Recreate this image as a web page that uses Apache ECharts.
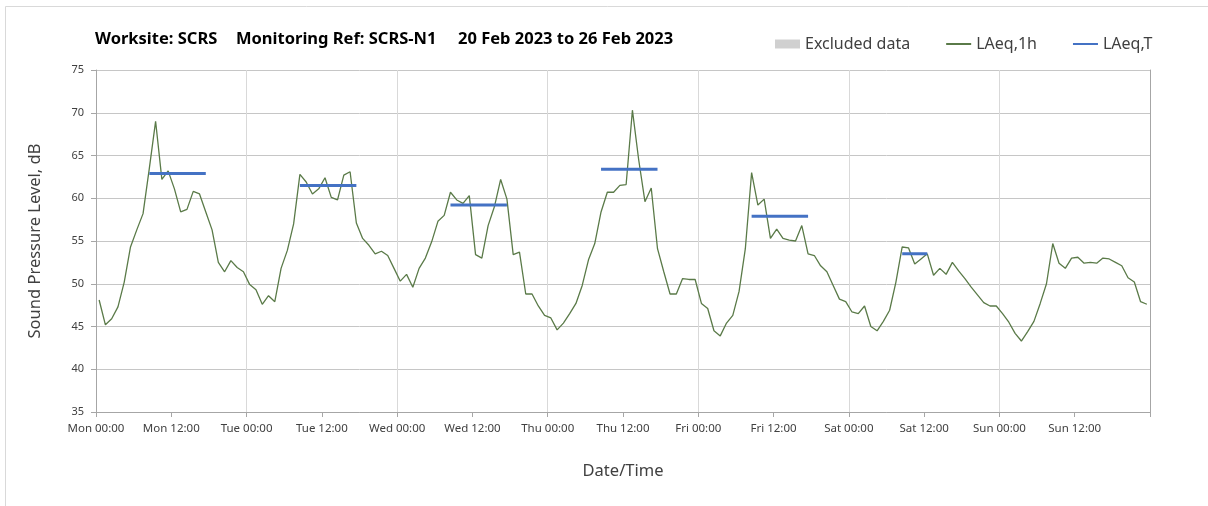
<!DOCTYPE html>
<html>
<head>
<meta charset="utf-8">
<script src="https://cdn.jsdelivr.net/npm/echarts@6/dist/echarts.min.js"></script>
<style>
html,body{margin:0;padding:0;background:#fff;}
#chart{width:1208px;height:506px;}
</style>
</head>
<body>
<div id="chart"></div>
<script>
// Hourly LAeq,1h values (dB), one array per day, Mon 20 Feb 2023 .. Sun 26 Feb 2023
const mon = [48.1,45.2,45.9,47.3,50.2,54.3,56.3,58.2,63.5,69.0,62.2,63.2,61.1,58.4,58.7,60.8,60.5,58.4,56.3,52.5,51.4,52.7,51.9,51.4];
const tue = [49.9,49.3,47.6,48.6,47.9,51.8,53.9,57.0,62.8,61.9,60.5,61.1,62.4,60.1,59.8,62.7,63.1,57.1,55.3,54.5,53.5,53.8,53.3,51.8];
const wed = [50.3,51.1,49.6,51.8,53.0,54.9,57.3,58.0,60.7,59.8,59.4,60.3,53.4,53.0,56.8,59.0,62.2,59.9,53.4,53.7,48.8,48.8,47.4,46.3];
const thu = [46.0,44.6,45.4,46.5,47.7,49.8,52.8,54.7,58.4,60.7,60.7,61.5,61.6,70.3,64.5,59.6,61.2,54.1,51.4,48.8,48.8,50.6,50.5,50.5];
const fri = [47.7,47.1,44.5,43.9,45.4,46.3,49.1,54.1,63.0,59.2,59.9,55.3,56.4,55.3,55.1,55.0,56.8,53.5,53.3,52.1,51.4,49.8,48.2,47.9];
const sat = [46.7,46.5,47.4,45.0,44.5,45.6,46.9,50.2,54.3,54.2,52.3,52.9,53.5,51.0,51.8,51.1,52.5,51.5,50.6,49.6,48.7,47.8,47.4,47.4];
const sun = [46.5,45.5,44.2,43.3,44.4,45.6,47.7,50.0,54.7,52.4,51.8,53.0,53.1,52.4,52.5,52.4,53.0,52.9,52.5,52.1,50.7,50.2,47.9,47.6];

// LAeq,T daytime periods
const periodDay = [0,1,2,3,4,5];
const periodStartHour = [8,8,8,8,8,8];
const periodEndHour = [17,17,17,17,17,12];
const periodLAeqT = [62.9,61.5,59.2,63.4,57.9,53.5];

// x tick labels every 12 h
const xTickLabels = ['Mon 00:00','Mon 12:00','Tue 00:00','Tue 12:00','Wed 00:00','Wed 12:00','Thu 00:00','Thu 12:00','Fri 00:00','Fri 12:00','Sat 00:00','Sat 12:00','Sun 00:00','Sun 12:00'];
const yTicks = [35,40,45,50,55,60,65,70,75];

const hourly = [].concat(mon,tue,wed,thu,fri,sat,sun);
const FONT = 'Noto Sans';
const TXT = '#404040';

const series = [
  { name:'Excluded data', type:'bar', data:[], itemStyle:{color:'#d0d0d0'} },
  { name:'LAeq,1h', type:'line', symbol:'none', z:3,
    lineStyle:{color:'#5a7a48', width:1.3}, itemStyle:{color:'#5a7a48'},
    data: hourly.map((v,i)=>[i+0.5, v]) }
];
periodDay.forEach((d,k)=>{
  series.push({ name:'LAeq,T', type:'line', symbol:'none', z:4,
    lineStyle:{color:'#4472c4', width:3}, itemStyle:{color:'#4472c4'},
    data:[[d*24+periodStartHour[k]+0.5, periodLAeqT[k]],[d*24+periodEndHour[k]+0.5, periodLAeqT[k]]] });
});

const titleStyle = {fontFamily:FONT,fontSize:16.5,fontWeight:'bold',color:'#000'};
const chart = echarts.init(document.getElementById('chart'), null, {renderer:'canvas'});
chart.setOption({
  animation:false,
  backgroundColor:'#ffffff',
  textStyle:{fontFamily:FONT},
  graphic:[{type:'rect', shape:{x:5.5,y:6.5,width:1220,height:520}, style:{fill:'none', stroke:'#d9d9d9', lineWidth:1}, silent:true}],
  title:[
    {text:'Worksite: SCRS', left:95, top:31, padding:0, textStyle:titleStyle},
    {text:'Monitoring Ref: SCRS-N1', left:236, top:31, padding:0, textStyle:titleStyle},
    {text:'20 Feb 2023 to 26 Feb 2023', left:458, top:31, padding:0, textStyle:titleStyle}
  ],
  legend:{
    left:775, top:34, padding:0, itemWidth:25, itemHeight:9, itemGap:35,
    textStyle:{fontFamily:FONT,fontSize:16,color:TXT,lineHeight:20},
    data:[
      {name:'Excluded data', icon:'rect'},
      {name:'LAeq,1h', itemStyle:{opacity:0}},
      {name:'LAeq,T', itemStyle:{opacity:0}}
    ]
  },
  grid:{left:96, right:58, top:70, bottom:94, outerBoundsMode:'none'},
  xAxis:{
    type:'value', min:0, max:168, interval:12,
    name:'Date/Time', nameLocation:'middle', nameGap:51,
    nameTextStyle:{fontFamily:FONT,fontSize:16.5,color:TXT},
    axisLine:{show:true, lineStyle:{color:'#a6a6a6'}},
    axisTick:{show:true, length:5, lineStyle:{color:'#a6a6a6'}},
    axisLabel:{fontFamily:FONT,fontSize:11.5,color:TXT,margin:11,
      formatter:(v)=> xTickLabels[Math.round(v/12)] || ''},
    splitLine:{show:true, lineStyle:{color:['#d9d9d9','rgba(0,0,0,0)'], width:1}}
  },
  yAxis:[{
    type:'value', min:yTicks[0], max:yTicks[yTicks.length-1], interval:5,
    name:'Sound Pressure Level, dB', nameLocation:'middle', nameGap:52,
    nameTextStyle:{fontFamily:FONT,fontSize:16.5,color:TXT},
    axisLine:{show:true, lineStyle:{color:'#a6a6a6'}},
    axisTick:{show:true, length:5, lineStyle:{color:'#a6a6a6'}},
    axisLabel:{fontFamily:FONT,fontSize:11,color:TXT,margin:12},
    splitLine:{show:true, lineStyle:{color:'#c6c6c6'}}
  },{
    type:'value', position:'right', min:yTicks[0], max:yTicks[yTicks.length-1], interval:5,
    axisLine:{show:true, lineStyle:{color:'#a6a6a6'}},
    axisTick:{show:false}, axisLabel:{show:false}, splitLine:{show:false}
  }],
  series: series
});
</script>
</body>
</html>
